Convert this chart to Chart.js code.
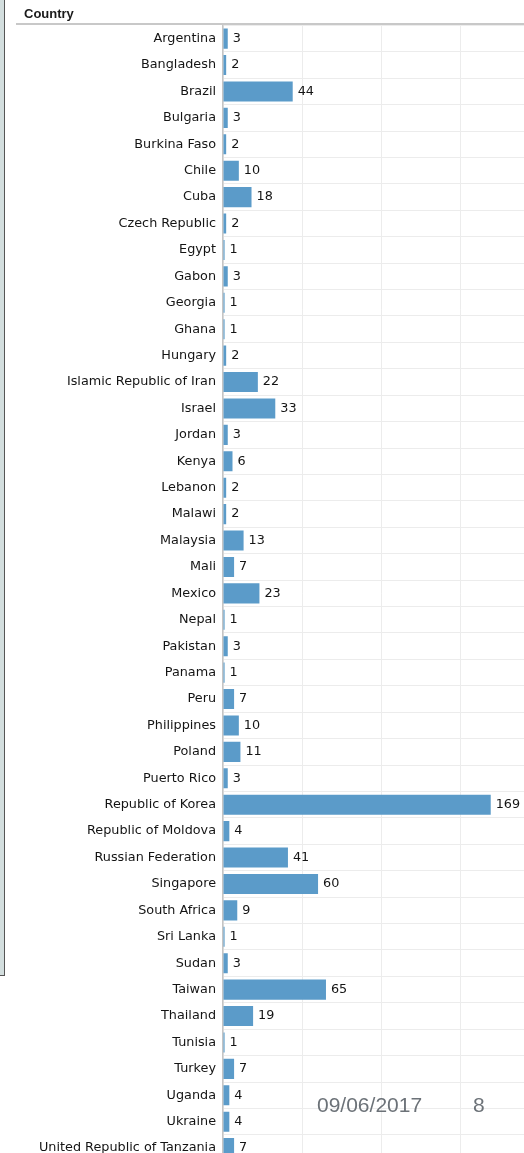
<!DOCTYPE html>
<html>
<head>
<meta charset="utf-8">
<script src="https://cdn.jsdelivr.net/npm/chart.js@4"></script>
<style>
  html, body { margin: 0; padding: 0; background: #fff; overflow: hidden; }
  #wrap { position: relative; width: 524px; height: 1153px; overflow: hidden; }
  #chart { position: absolute; left: 0; top: 0; }
  #side { position: absolute; left: 0; top: 0; width: 4px; height: 975px; background: #d3dede; border-right: 1px solid #555; border-bottom: 1px solid #555; }
  #head { position: absolute; left: 24px; top: 6px; font: bold 13px "Liberation Sans", Arial, sans-serif; color: #1a1a1a; }
  #headline { position: absolute; left: 16px; top: 23px; width: 508px; height: 2px; background: #c8c8c8; }
  .foot { position: absolute; top: 1093px; font: 21px "Liberation Sans", Arial, sans-serif; color: #6c7278; }
</style>
</head>
<body>
<div id="wrap">
  <canvas id="chart"></canvas>
  <div id="side"></div>
  <div id="head">Country</div>
  <div id="headline"></div>
  <div class="foot" style="left:317px">09/06/2017</div>
  <div class="foot" style="left:473px">8</div>
</div>
<script>
const countries = [
    'Argentina', 'Bangladesh', 'Brazil', 'Bulgaria', 'Burkina Faso', 'Chile', 'Cuba',
    'Czech Republic', 'Egypt', 'Gabon', 'Georgia', 'Ghana', 'Hungary',
    'Islamic Republic of Iran', 'Israel', 'Jordan', 'Kenya', 'Lebanon', 'Malawi',
    'Malaysia', 'Mali', 'Mexico', 'Nepal', 'Pakistan', 'Panama', 'Peru', 'Philippines',
    'Poland', 'Puerto Rico', 'Republic of Korea', 'Republic of Moldova',
    'Russian Federation', 'Singapore', 'South Africa', 'Sri Lanka', 'Sudan', 'Taiwan',
    'Thailand', 'Tunisia', 'Turkey', 'Uganda', 'Ukraine', 'United Republic of Tanzania'
];
const counts = [
    3, 2, 44, 3, 2, 10, 18,
    2, 1, 3, 1, 1, 2,
    22, 33, 3, 6, 2, 2,
    13, 7, 23, 1, 3, 1, 7, 10,
    11, 3, 169, 4,
    41, 60, 9, 1, 3, 65,
    19, 1, 7, 4, 4, 7
];
const gridTicks = [0, 50, 100, 150];

const labelFont = '12.8px "DejaVu Sans", sans-serif';

// writes each count just past the end of its bar
const valueLabels = {
    id: 'valueLabels',
    afterDatasetsDraw(chart) {
        const ctx = chart.ctx;
        const meta = chart.getDatasetMeta(0);
        ctx.save();
        ctx.font = labelFont;
        ctx.fillStyle = '#141414';
        ctx.textBaseline = 'middle';
        meta.data.forEach((bar, i) => {
            ctx.fillText(String(counts[i]), bar.x + 5, bar.y);
        });
        ctx.restore();
    }
};

const canvas = document.getElementById('chart');
canvas.width = 524;
canvas.height = 1176;

new Chart(canvas.getContext('2d'), {
    type: 'bar',
    data: {
        labels: countries,
        datasets: [{
            data: counts,
            backgroundColor: '#5b9bc9',
            barPercentage: 0.76,
            categoryPercentage: 1
        }]
    },
    options: {
        indexAxis: 'y',
        responsive: false,
        animation: false,
        layout: { padding: { top: 25.4, right: 0, bottom: 0, left: 0 } },
        plugins: { legend: { display: false }, tooltip: { enabled: false } },
        scales: {
            x: {
                min: 0,
                max: 190,
                afterBuildTicks: s => { s.ticks = gridTicks.map(v => ({ value: v })); },
                afterFit: s => { s.height = 0; },
                ticks: { display: false },
                grid: { color: '#ececec', drawTicks: false },
                border: { display: false }
            },
            y: {
                afterFit: s => { s.width = 223; },
                ticks: {
                    color: '#141414',
                    font: { family: '"DejaVu Sans", sans-serif', size: 12.8 },
                    padding: 7,
                    autoSkip: false
                },
                grid: { color: '#ececec', drawTicks: false },
                border: { color: '#c4c4c4', width: 1.5 }
            }
        }
    },
    plugins: [valueLabels]
});
</script>
</body>
</html>
